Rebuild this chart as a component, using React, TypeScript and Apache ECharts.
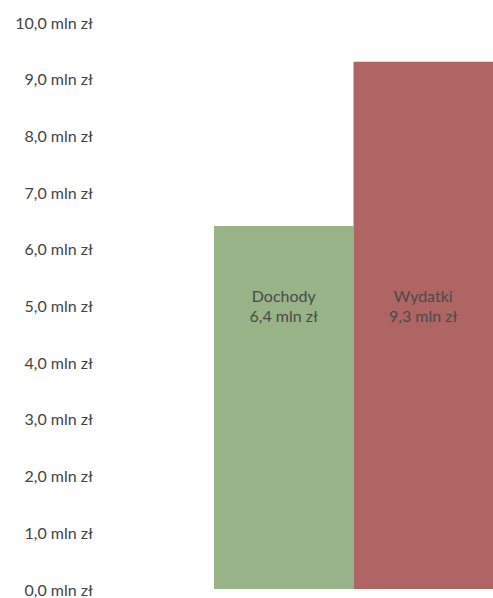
import React, { useEffect, useRef } from "react";
import * as echarts from "echarts";

const categories = ["Dochody", "Wydatki"];
const values = [6.4, 9.3];
const colors = ["#98B387", "#B06565"];
const labelLevel = 5.0;
const yMin = 0;
const yMax = 10;
const yInterval = 1;

const fmt = (v: number) => v.toFixed(1).replace(".", ",") + " mln zł";

export default function App() {
  const ref = useRef<HTMLDivElement>(null);
  useEffect(() => {
    if (!ref.current) return;
    const chart = echarts.init(ref.current, undefined, { renderer: "svg" });
    chart.setOption({
      animation: false,
      backgroundColor: "#ffffff",
      grid: { left: 214, right: 0, top: 22, bottom: 9 },
      xAxis: {
        type: "category",
        data: categories,
        show: false,
      },
      yAxis: {
        type: "value",
        min: yMin,
        max: yMax,
        interval: yInterval,
        axisLine: { show: false },
        axisTick: { show: false },
        splitLine: { show: false },
        axisLabel: {
          formatter: (v: number) => fmt(v),
          fontFamily: "Lato",
          fontSize: 16,
          color: "#444444",
          margin: 121,
          align: "right",
        },
      },
      series: [
        {
          type: "bar",
          barCategoryGap: 0,
          barWidth: "100%",
          data: values.map((v, i) => ({ value: v, itemStyle: { color: colors[i] } })),
          markPoint: {
            symbol: "rect",
            symbolSize: 0,
            label: {
              show: true,
              position: "inside",
              fontFamily: "Lato",
              fontSize: 16,
              lineHeight: 20,
              color: "#4a4a4a",
              align: "center",
              verticalAlign: "middle",
              formatter: (p: any) => p.name + "\n" + fmt(values[p.dataIndex]),
            },
            data: categories.map((c) => ({ name: c, coord: [c, labelLevel] })),
          },
        },
      ],
    });
    return () => chart.dispose();
  }, []);
  return <div ref={ref} style={{ width: 493, height: 598, position: "absolute", left: 0, top: 0 }} />;
}
